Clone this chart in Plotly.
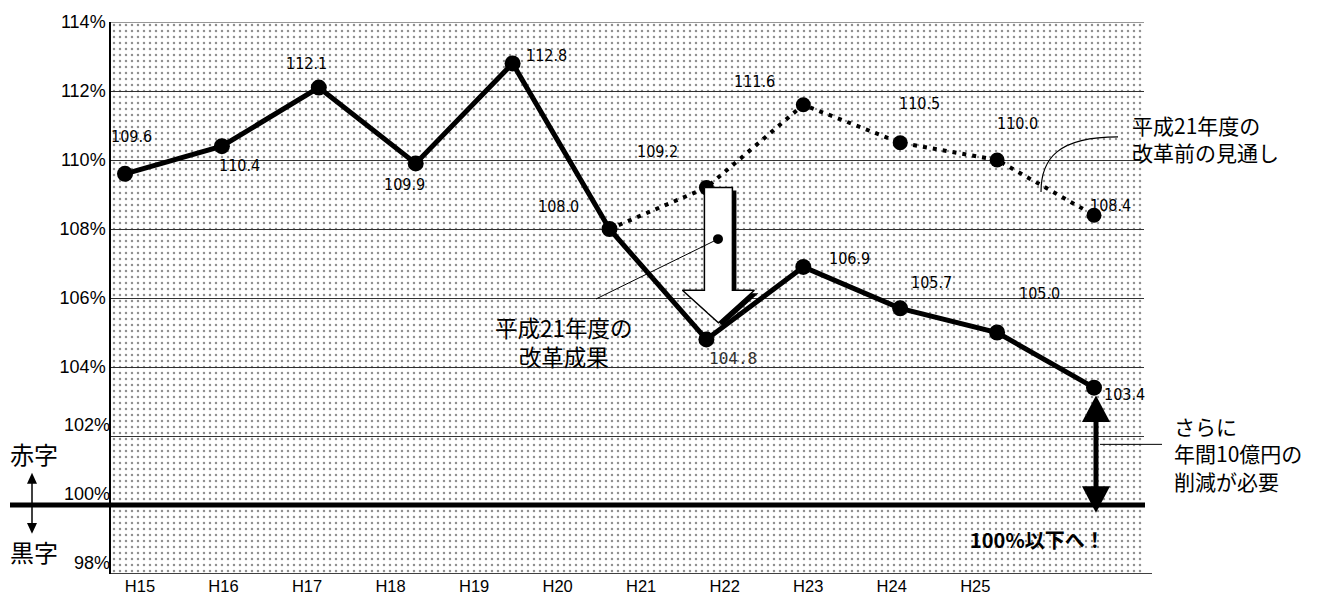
import plotly.graph_objects as go

# ---- data ----
years = ["H15", "H16", "H17", "H18", "H19", "H20", "H21", "H22", "H23", "H24", "H25"]
actual = [109.6, 110.4, 112.1, 109.9, 112.8, 108.0, 104.8, 106.9, 105.7, 105.0, 103.4]
outlook_years = ["H20", "H21", "H22", "H23", "H24", "H25"]
outlook = [108.0, 109.2, 111.6, 110.5, 110.0, 108.4]
y_ticks = [98, 100, 102, 104, 106, 108, 110, 112, 114]
y_tick_labels = ["98%", "100%", "102%", "104%", "106%", "108%", "110%", "112%", "114%"]
break_even = 100.0

# ---- geometry ----
W, H = 1319, 607
ML, MR, MT, MB = 111, 175, 16, 29
PW, PH = W - ML - MR, H - MT - MB
X_RANGE = [-0.1445, 10.516]
X2_RANGE = [-0.347, 12.02]
Y_RANGE = [98, 114]

CJK = "Noto Sans CJK JP, Noto Sans CJK SC, sans-serif"
NARROW = "Liberation Sans Narrow, DejaVu Sans Condensed, Arial Narrow, sans-serif"
SANS = "Liberation Sans, Arial, sans-serif"


def xpx(v):
    return ML + (v - X_RANGE[0]) / (X_RANGE[1] - X_RANGE[0]) * PW


def ypx(v):
    return MT + (Y_RANGE[1] - v) / (Y_RANGE[1] - Y_RANGE[0]) * PH


def px_to_x(px):
    return X_RANGE[0] + (px - ML) / PW * (X_RANGE[1] - X_RANGE[0])


def py_to_y(py):
    return Y_RANGE[1] - (py - MT) / PH * (Y_RANGE[1] - Y_RANGE[0])


def pxp(px):
    return (px - ML) / PW


def pyp(py):
    return 1 - (py - MT) / PH


def poly_path(pts):
    return "M " + " L ".join(f"{pxp(a):.5f},{pyp(b):.5f}" for a, b in pts) + " Z"


idx = list(range(len(years)))
o_idx = [years.index(y) for y in outlook_years]

fig = go.Figure()

# dotted background texture over the plotting area
fig.add_trace(go.Scatter(
    x=[X_RANGE[0], X_RANGE[1], X_RANGE[1], X_RANGE[0], X_RANGE[0]],
    y=[Y_RANGE[0], Y_RANGE[0], Y_RANGE[1], Y_RANGE[1], Y_RANGE[0]],
    mode="none", fill="toself", fillcolor="rgba(0,0,0,0)",
    fillpattern=dict(shape=".", size=6, solidity=0.13, fgcolor="#222",
                     fillmode="overlay"),
    hoverinfo="skip", showlegend=False,
))

# outlook before reform (dotted)
fig.add_trace(go.Scatter(
    x=o_idx, y=outlook, mode="lines",
    line=dict(color="black", width=4, dash="4px,6px"),
    hoverinfo="skip", showlegend=False,
))
fig.add_trace(go.Scatter(
    x=o_idx[1:], y=outlook[1:], mode="markers",
    marker=dict(color="black", size=15),
    hoverinfo="skip", showlegend=False,
))

# white down arrow showing the reform effect in H21
i21 = years.index("H21")
cx = xpx(i21) + 12
top = ypx(outlook[outlook_years.index("H21")])
tip = ypx(actual[i21]) - 17
base = tip - 33
arrow_pts = [(cx - 14, top), (cx + 14, top), (cx + 14, base), (cx + 36, base),
             (cx, tip), (cx - 36, base), (cx - 14, base), (cx - 14, top)]
for dx, dy, fc, lw in [(4, 3, "black", 0), (0, 0, "white", 1.5)]:
    fig.add_trace(go.Scatter(
        x=[px_to_x(a + dx) for a, b in arrow_pts],
        y=[py_to_y(b + dy) for a, b in arrow_pts],
        mode="lines", fill="toself", fillcolor=fc,
        line=dict(color="black", width=lw),
        hoverinfo="skip", showlegend=False,
    ))

# actual result line
fig.add_trace(go.Scatter(
    x=idx, y=actual, mode="lines+markers",
    line=dict(color="black", width=5),
    marker=dict(color="black", size=16),
    hoverinfo="skip", showlegend=False,
))

# invisible traces carrying the category axis and the lower tick labels
fig.add_trace(go.Scatter(x=[0], y=[Y_RANGE[0]], xaxis="x2", mode="markers",
                         marker=dict(opacity=0), hoverinfo="skip", showlegend=False))
fig.add_trace(go.Scatter(x=[0], y=[Y_RANGE[0]], yaxis="y2", mode="markers",
                         marker=dict(opacity=0), hoverinfo="skip", showlegend=False))

annotations = []

# value labels
actual_offsets = [(6, -37), (18, 19), (-12, -24), (-11, 21), (34, -8), (-51, -23),
                  (27, 19), (46, -8), (31, -26), (42, -39), (30, 7)]
for i, (v, (dx, dy)) in enumerate(zip(actual, actual_offsets)):
    special = years[i] == "H21"
    annotations.append(dict(
        x=i, y=v, xref="x", yref="y", text=f"{v:.1f}", showarrow=False,
        xshift=dx, yshift=-dy,
        font=dict(family="DejaVu Sans Mono, monospace", size=16, color="#333")
        if special else dict(family=NARROW, size=16, color="black"),
    ))
outlook_offsets = [(-49, -36), (-49, -23), (19, -39), (20, -37), (16, -10)]
for i, v, (dx, dy) in zip(o_idx[1:], outlook[1:], outlook_offsets):
    annotations.append(dict(
        x=i, y=v, xref="x", yref="y", text=f"{v:.1f}", showarrow=False,
        xshift=dx, yshift=-dy, font=dict(family=NARROW, size=16, color="black"),
    ))


def note(text, px, py, size, xanchor="center", align="center", bold=False):
    annotations.append(dict(
        x=pxp(px), y=pyp(py), xref="paper", yref="paper", text=text,
        showarrow=False, xanchor=xanchor, yanchor="middle", align=align,
        font=dict(family=CJK, size=size, color="black",
                  weight="bold" if bold else "normal"),
    ))


note("平成21年度の<br>改革成果", 563, 341, 22.5)
note("平成21年度の<br>改革前の見通し", 1130, 135, 21, xanchor="left", align="left")
note("さらに<br>年間10億円の<br>削減が必要", 1172, 455, 21, xanchor="left", align="left")
note("100%以下へ！", 1037, 543, 20, bold=True)
note("赤字", 34, 455, 24)
note("黒字", 34, 555, 24)

shapes = []

# break-even line
shapes.append(dict(type="line", xref="paper", yref="y", x0=pxp(10), x1=pxp(1145),
                   y0=break_even, y1=break_even, line=dict(color="black", width=5)))
# bottom axis line
shapes.append(dict(type="line", xref="paper", yref="y", x0=0, x1=pxp(1152),
                   y0=Y_RANGE[0], y1=Y_RANGE[0], line=dict(color="black", width=1.5)))
# top border
shapes.append(dict(type="line", xref="paper", yref="y", x0=0, x1=1,
                   y0=Y_RANGE[1], y1=Y_RANGE[1], line=dict(color="#333", width=1)))

# leader to the reform-effect arrow
shapes.append(dict(type="line", xref="paper", yref="paper", x0=pxp(596), y0=pyp(298),
                   x1=pxp(718), y1=pyp(237), line=dict(color="black", width=1)))
shapes.append(dict(type="circle", xref="paper", yref="paper", x0=pxp(713), x1=pxp(723),
                   y0=pyp(232), y1=pyp(242), fillcolor="black", line=dict(width=0)))
# curved leader to the outlook line
shapes.append(dict(type="path", xref="paper", yref="paper",
                   path=f"M {pxp(1118):.5f},{pyp(133):.5f} C {pxp(1058):.5f},{pyp(133):.5f} "
                        f"{pxp(1041):.5f},{pyp(155):.5f} {pxp(1041):.5f},{pyp(189):.5f}",
                   line=dict(color="black", width=1.2)))
# leader to the further-cut note
shapes.append(dict(type="line", xref="paper", yref="paper", x0=pxp(1100), x1=pxp(1162),
                   y0=pyp(446), y1=pyp(446), line=dict(color="black", width=1)))

# double arrow from H25 result to the break-even line
i25 = years.index("H25")
ax = xpx(i25) + 2
a_top = ypx(actual[i25]) + 8
a_bot = ypx(break_even) + 8
shapes.append(dict(type="line", xref="paper", yref="paper", x0=pxp(ax), x1=pxp(ax),
                   y0=pyp(a_top + 20), y1=pyp(a_bot - 20), line=dict(color="black", width=5)))
shapes.append(dict(type="path", xref="paper", yref="paper", fillcolor="black",
                   line=dict(width=0),
                   path=poly_path([(ax, a_top), (ax + 14, a_top + 27), (ax - 14, a_top + 27)])))
shapes.append(dict(type="path", xref="paper", yref="paper", fillcolor="black",
                   line=dict(width=0),
                   path=poly_path([(ax, a_bot), (ax + 14, a_bot - 27), (ax - 14, a_bot - 27)])))

# small up/down arrow between 赤字 and 黒字
sx = 32
shapes.append(dict(type="line", xref="paper", yref="paper", x0=pxp(sx), x1=pxp(sx),
                   y0=pyp(480), y1=pyp(532), line=dict(color="black", width=1.5)))
shapes.append(dict(type="path", xref="paper", yref="paper", fillcolor="black",
                   line=dict(width=0),
                   path=poly_path([(sx, 475), (sx + 5, 486), (sx - 5, 486)])))
shapes.append(dict(type="path", xref="paper", yref="paper", fillcolor="black",
                   line=dict(width=0),
                   path=poly_path([(sx, 537), (sx + 5, 526), (sx - 5, 526)])))

upper_text = [t if v > 102 else "" for v, t in zip(y_ticks, y_tick_labels)]
lower_vals = [v for v in y_ticks if v <= 102]
lower_text = [t for v, t in zip(y_ticks, y_tick_labels) if v <= 102]

fig.update_layout(
    width=W, height=H,
    margin=dict(l=ML, r=MR, t=MT, b=MB, pad=0),
    paper_bgcolor="white", plot_bgcolor="white",
    showlegend=False, hovermode=False,
    font=dict(family=SANS, color="black"),
    xaxis=dict(range=X_RANGE, showticklabels=False, showgrid=False, zeroline=False,
               showline=False, ticks=""),
    xaxis2=dict(range=X2_RANGE, overlaying="x", anchor="y", side="bottom",
                tickmode="array", tickvals=idx, ticktext=years, showgrid=False,
                zeroline=False, showline=False, ticks="",
                tickfont=dict(family=SANS, size=16.5, color="black")),
    yaxis=dict(range=Y_RANGE, tickmode="array", tickvals=y_ticks, ticktext=upper_text,
               showgrid=True, gridcolor="#333", gridwidth=1, zeroline=False,
               showline=True, linecolor="black", linewidth=1.5, ticks="",
               tickfont=dict(family=SANS, size=18, color="black")),
    yaxis2=dict(range=Y_RANGE, overlaying="y", anchor="x", side="left",
                tickmode="array", tickvals=lower_vals, ticktext=lower_text,
                ticklabelshift=-11, showgrid=False, zeroline=False, showline=False,
                ticks="", tickfont=dict(family=SANS, size=18, color="black")),
    annotations=annotations,
    shapes=shapes,
)

fig.write_html("out.html")
